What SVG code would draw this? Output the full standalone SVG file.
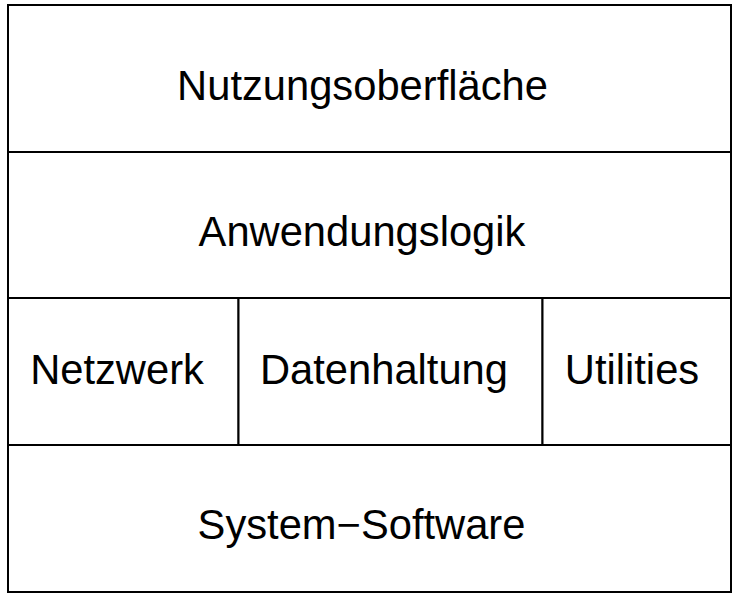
<svg xmlns="http://www.w3.org/2000/svg" width="738" height="598" viewBox="0 0 738 598">
<style>
.box{fill:#fff;stroke:#000;stroke-width:2}
.lbl{font-family:"Liberation Sans",Arial,sans-serif;font-size:41.7px;fill:#000;text-anchor:middle}
</style>
<rect width="738" height="598" fill="#fff"/>
<g id="nutzungsoberflaeche">
<rect class="box" x="8" y="5" width="723" height="147"/>
<text class="lbl" x="362.5" y="99.5">Nutzungsoberfläche</text>
</g>
<g id="anwendungslogik">
<rect class="box" x="8" y="152" width="723" height="146"/>
<text class="lbl" x="362" y="246">Anwendungslogik</text>
</g>
<g id="netzwerk">
<rect class="box" x="8" y="298" width="230.5" height="147"/>
<text class="lbl" x="117" y="383.5">Netzwerk</text>
</g>
<g id="datenhaltung">
<rect class="box" x="238.5" y="298" width="304" height="147"/>
<text class="lbl" x="384" y="383.5">Datenhaltung</text>
</g>
<g id="utilities">
<rect class="box" x="542.5" y="298" width="188.5" height="147"/>
<text class="lbl" x="632" y="383.5">Utilities</text>
</g>
<g id="system-software">
<rect class="box" x="8" y="445" width="723" height="147"/>
<text class="lbl" x="361.5" y="539">System−Software</text>
</g>
<g id="connectors"/>
</svg>
